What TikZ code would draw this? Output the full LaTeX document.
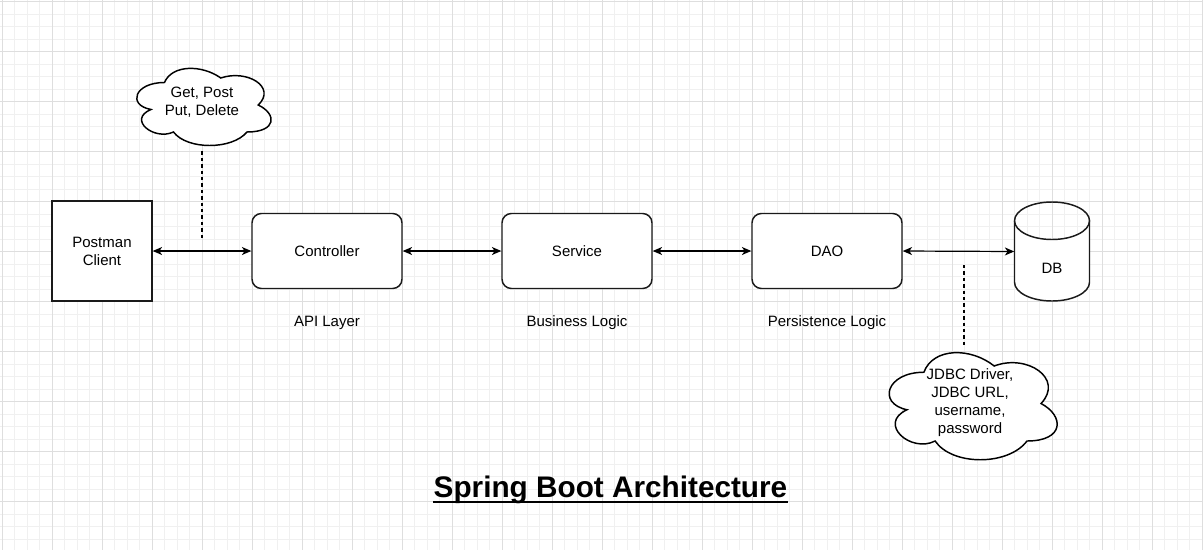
\documentclass[tikz,border=0pt]{standalone}
\usepackage{fontspec}
\setmainfont{Liberation Sans}
\usetikzlibrary{arrows.meta}
\definecolor{gridminor}{HTML}{F0F0F0}
\definecolor{gridmajor}{HTML}{DEDEDE}
\definecolor{edge}{HTML}{1A1A1A}
\begin{document}
\begin{tikzpicture}[x=0.75pt,y=-0.75pt,
  txt/.style={font=\fontsize{11.25pt}{13.5pt}\selectfont, align=center, inner sep=0pt, text=black},
  box/.style={draw=edge, line width=1.1pt, fill=white, minimum width=112.5pt, minimum height=56.25pt, rounded corners=7pt, txt},
  sqbox/.style={draw=edge, line width=1.1pt, fill=white, minimum width=75pt, minimum height=75pt, txt},
  conn/.style={line width=0.9pt, draw=black, {Stealth[length=7pt,width=6pt,inset=2pt]}-{Stealth[length=7pt,width=6pt,inset=2pt]}},
  note/.style={line width=0.9pt, draw=black, dash pattern=on 2.6pt off 2.2pt},
  cloudline/.style={draw=black, line width=1.1pt, fill=white}
]
\useasboundingbox (0,0) rectangle (1203,550);
\fill[white] (0,0) rectangle (1203,550);
% grid
\foreach \i in {0,...,96} \draw[gridminor, line width=0.75pt] ({2+12.5*\i},0) -- ({2+12.5*\i},550);
\foreach \i in {0,...,43} \draw[gridminor, line width=0.75pt] (0,{1.7+12.5*\i}) -- (1203,{1.7+12.5*\i});
\foreach \i in {0,...,24} \draw[gridmajor, line width=0.75pt] ({2+50*\i},0) -- ({2+50*\i},550);
\foreach \i in {0,...,10} \draw[gridmajor, line width=0.75pt] (0,{1.7+50*\i}) -- (1203,{1.7+50*\i});

% main nodes
\node[sqbox] (postman) at (102,251) {Postman\\Client};
\node[box] (controller) at (327,251) {Controller};
\node[box] (service) at (577,251) {Service};
\node[box] (dao) at (827,251) {DAO};
\node[minimum width=56.25pt, minimum height=75pt, inner sep=0pt] (db) at (1052,251.5) {};

% cylinder
\fill[white] (1014.5,220.75) -- (1014.5,282.25) arc[start angle=180, end angle=360, x radius=37.5, y radius=-18.75] -- (1089.5,220.75) arc[start angle=0, end angle=180, x radius=37.5, y radius=18.75] -- cycle;
\draw[edge, line width=1.1pt] (1014.5,220.75) -- (1014.5,282.25) arc[start angle=180, end angle=360, x radius=37.5, y radius=-18.75] -- (1089.5,220.75);
\draw[edge, line width=1.1pt] (1052,220.75) ellipse[x radius=37.5, y radius=18.75];
\node[txt, anchor=base] (dbtext) at (1052,273) {DB};

% connectors
\draw[conn] (postman.east) -- (controller.west);
\draw[conn] (controller.east) -- (service.west);
\draw[conn] (service.east) -- (dao.west);
\draw[conn] (dao.east) -- (db.west);

% layer labels
\node[txt, anchor=base] (api) at (327,326) {API Layer};
\node[txt, anchor=base] (biz) at (577,326) {Business Logic};
\node[txt, anchor=base] (pers) at (827,326) {Persistence Logic};

% dashed notes
\coordinate (n1a) at (202,238);
\coordinate (n1b) at (202,150);
\draw[note] (n1a) -- (n1b);
\coordinate (n2a) at (964,265);
\coordinate (n2b) at (964,345);
\draw[note] (n2a) -- (n2b);

% cloud 1
\begin{scope}[shift={(127,60)}, xscale=150, yscale=90]
\path[cloudline] (0.25,0.25) .. controls (0.05,0.25) and (0,0.5) .. (0.16,0.55)
  .. controls (0,0.66) and (0.18,0.9) .. (0.31,0.8)
  .. controls (0.4,1) and (0.7,1) .. (0.8,0.8)
  .. controls (1,0.8) and (1,0.6) .. (0.875,0.5)
  .. controls (1,0.3) and (0.8,0.1) .. (0.625,0.2)
  .. controls (0.5,0.05) and (0.3,0.05) .. (0.25,0.25) -- cycle;
\end{scope}
\node[txt] (cloud1) at (202,102.5) {Get, Post\\Put, Delete};

% cloud 2
\begin{scope}[shift={(877,341)}, xscale=187.5, yscale=125]
\path[cloudline] (0.25,0.25) .. controls (0.05,0.25) and (0,0.5) .. (0.16,0.55)
  .. controls (0,0.66) and (0.18,0.9) .. (0.31,0.8)
  .. controls (0.4,1) and (0.7,1) .. (0.8,0.8)
  .. controls (1,0.8) and (1,0.6) .. (0.875,0.5)
  .. controls (1,0.3) and (0.8,0.1) .. (0.625,0.2)
  .. controls (0.5,0.05) and (0.3,0.05) .. (0.25,0.25) -- cycle;
\end{scope}
\node[txt] (cloud2) at (970,402.5) {JDBC Driver,\\JDBC URL,\\username,\\password};

% title
\node[anchor=base, inner sep=0pt, font=\fontsize{22.3pt}{26pt}\selectfont\bfseries] (title) at (610.5,497) {Spring Boot Architecture};
\draw[black, line width=2pt] ([yshift=-3.8pt]title.base west) -- ([yshift=-3.8pt]title.base east);
\end{tikzpicture}
\end{document}
